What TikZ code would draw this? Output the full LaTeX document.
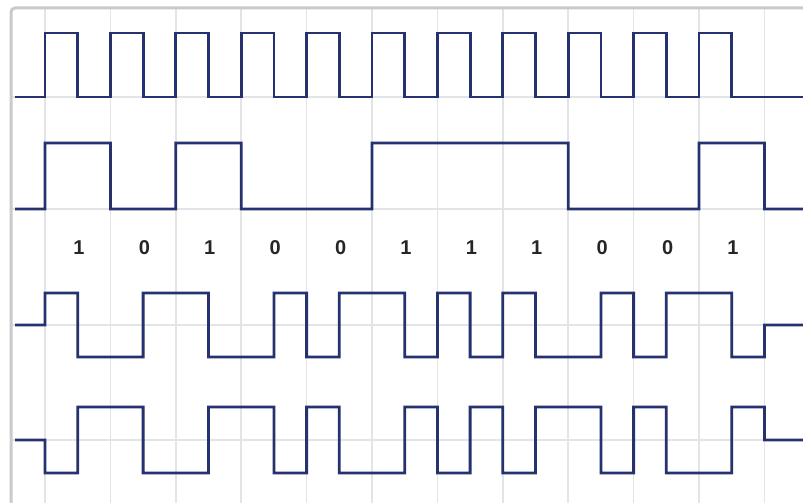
\documentclass[tikz,border=0pt]{standalone}
\usepackage{xcolor}
\usepackage{fontspec}
\setsansfont{Liberation Sans}
\usepackage{tikz}
\usetikzlibrary{calc}
\definecolor{wavecol}{RGB}{38,50,112}
\definecolor{gridcol}{RGB}{226,228,230}
\definecolor{framecol}{RGB}{200,202,204}
\tikzset{
  wave/.style={draw=wavecol,line width=2.8pt,line join=miter},
  gridline/.style={draw=gridcol,line width=1.5pt},
  bitlabel/.style={font=\sffamily\bfseries\fontsize{20}{20}\selectfont,text=black!85}
}
\newcommand{\bits}{1,0,1,0,0,1,1,1,0,0,1}
\newcommand{\backgrid}{
\begin{scope}
\foreach \k in {0,...,11}{
  \draw[gridline] ({45+65.4*\k},8) -- ({45+65.4*\k},503);
}
\foreach \y in {97,209,325,440}{
  \draw[gridline] (11,\y) -- (803,\y);
}
\draw[framecol,line width=3pt,rounded corners=4pt] (11,8) rectangle (900,600);
\end{scope}
}

\begin{document}
\begin{tikzpicture}[x=1pt,y=-1pt]
\useasboundingbox (0,0) rectangle (803,503);
\fill[white] (0,0) rectangle (803,503);
\backgrid
% clock
\draw[wave] (15,97) \foreach \k in {0,...,10}{
  -- ({45+65.4*\k},97) -- ({45+65.4*\k},33) -- ({77.7+65.4*\k},33) -- ({77.7+65.4*\k},97)
} -- (803,97);
% data (NRZ)
\draw[wave] (15,209) -- (45,209) \foreach \b [count=\i from 0] in \bits {
  -- ({45+65.4*\i},{209-66*\b}) -- ({110.4+65.4*\i},{209-66*\b})
} -- (764.4,209) -- (803,209);
\foreach \b [count=\i from 0] in \bits {
  \node[bitlabel] (bit\i) at ({79+65.4*\i},248) {\b};
}
% manchester
\draw[wave] (15,325) -- (45,325) \foreach \b [count=\i from 0] in \bits {
  -- ({45+65.4*\i},{325-32*(2*\b-1)}) -- ({77.7+65.4*\i},{325-32*(2*\b-1)})
  -- ({77.7+65.4*\i},{325+32*(2*\b-1)}) -- ({110.4+65.4*\i},{325+32*(2*\b-1)})
} -- (764.4,325) -- (803,325);
% inverted manchester
\draw[wave] (15,440) -- (45,440) \foreach \b [count=\i from 0] in \bits {
  -- ({45+65.4*\i},{440+33*(2*\b-1)}) -- ({77.7+65.4*\i},{440+33*(2*\b-1)})
  -- ({77.7+65.4*\i},{440-33*(2*\b-1)}) -- ({110.4+65.4*\i},{440-33*(2*\b-1)})
} -- (764.4,440) -- (803,440);
\end{tikzpicture}
\end{document}
